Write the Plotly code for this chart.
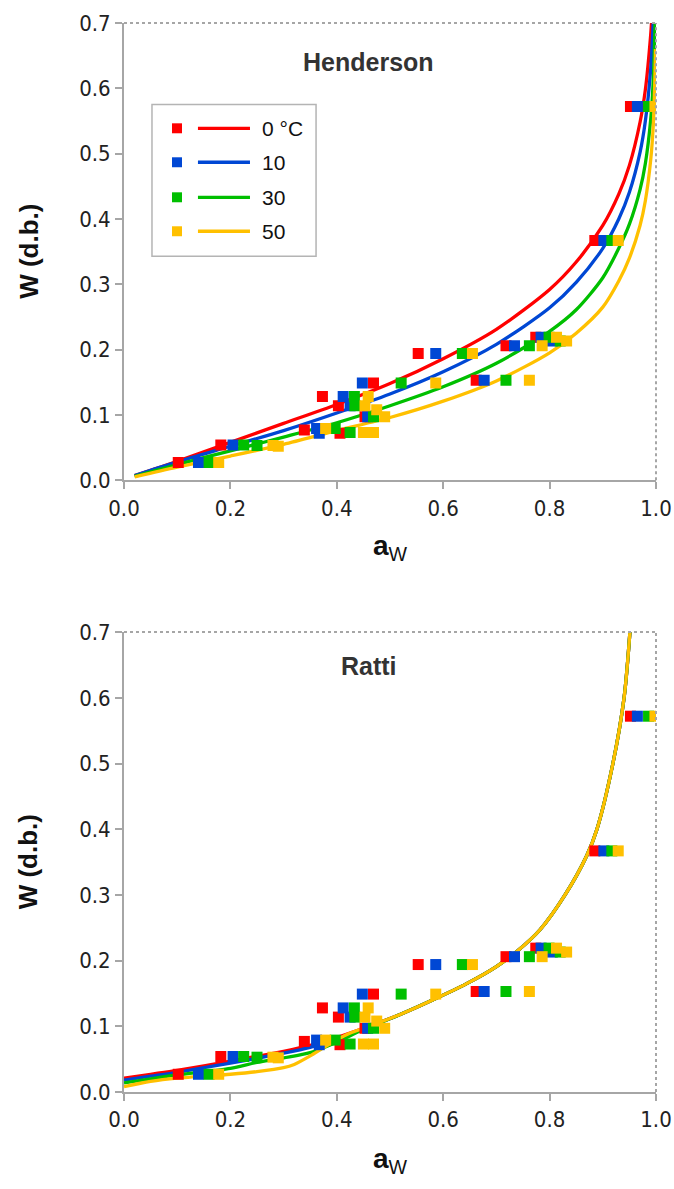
import plotly.graph_objects as go

# ---------------- data ----------------
temps = ["0 °C", "10", "30", "50"]
colors = ["#FF0000", "#0047D4", "#00BF00", "#FFC000"]

# experimental points (same in both panels)
exp_aw = [
    [0.102, 0.182, 0.339, 0.406, 0.373, 0.403, 0.453, 0.469, 0.553, 0.662, 0.718, 0.774, 0.885, 0.952],
    [0.140, 0.205, 0.362, 0.367, 0.412, 0.425, 0.458, 0.448, 0.586, 0.677, 0.734, 0.784, 0.805, 0.902, 0.965],
    [0.160, 0.225, 0.250, 0.397, 0.425, 0.433, 0.434, 0.469, 0.521, 0.636, 0.718, 0.762, 0.799, 0.820, 0.917, 0.986],
    [0.178, 0.280, 0.290, 0.379, 0.450, 0.469, 0.459, 0.453, 0.475, 0.490, 0.586, 0.655, 0.762, 0.786, 0.813, 0.832, 0.929, 0.998],
]
exp_w = [
    [0.027, 0.054, 0.077, 0.072, 0.128, 0.114, 0.097, 0.149, 0.194, 0.153, 0.206, 0.219, 0.367, 0.572],
    [0.027, 0.054, 0.079, 0.072, 0.128, 0.114, 0.097, 0.149, 0.194, 0.153, 0.206, 0.219, 0.213, 0.367, 0.572],
    [0.027, 0.054, 0.053, 0.079, 0.073, 0.128, 0.114, 0.097, 0.149, 0.194, 0.153, 0.206, 0.219, 0.213, 0.367, 0.572],
    [0.027, 0.053, 0.052, 0.079, 0.073, 0.073, 0.128, 0.114, 0.108, 0.097, 0.149, 0.194, 0.153, 0.206, 0.219, 0.213, 0.367, 0.572],
]

# Henderson model curves
hend_aw = [
    [0.02, 0.1, 0.2, 0.3, 0.4, 0.5, 0.6, 0.7, 0.8, 0.85, 0.9, 0.93, 0.95, 0.97, 0.98, 0.99, 0.9915],
    [0.02, 0.1, 0.2, 0.3, 0.4, 0.5, 0.6, 0.7, 0.8, 0.85, 0.9, 0.93, 0.95, 0.97, 0.98, 0.99, 0.9947],
    [0.02, 0.1, 0.2, 0.3, 0.4, 0.5, 0.6, 0.7, 0.8, 0.85, 0.9, 0.93, 0.95, 0.97, 0.98, 0.99, 0.995, 0.9982],
    [0.02, 0.1, 0.2, 0.3, 0.4, 0.5, 0.6, 0.7, 0.8, 0.85, 0.9, 0.93, 0.95, 0.97, 0.98, 0.99, 0.995, 0.998, 0.999],
]
hend_w = [
    [0.007, 0.029, 0.058, 0.087, 0.116, 0.148, 0.186, 0.231, 0.292, 0.334, 0.390, 0.438, 0.482, 0.548, 0.598, 0.682, 0.700],
    [0.007, 0.028, 0.052, 0.076, 0.103, 0.132, 0.166, 0.208, 0.264, 0.303, 0.355, 0.400, 0.441, 0.502, 0.550, 0.629, 0.700],
    [0.006, 0.024, 0.045, 0.066, 0.088, 0.114, 0.143, 0.179, 0.228, 0.261, 0.310, 0.355, 0.392, 0.445, 0.485, 0.552, 0.615, 0.700],
    [0.005, 0.020, 0.037, 0.055, 0.076, 0.096, 0.121, 0.152, 0.195, 0.225, 0.265, 0.305, 0.340, 0.390, 0.428, 0.490, 0.545, 0.620, 0.660],
]

# Ratti model curves
ratti_upper_aw = [0.519, 0.58, 0.644, 0.70, 0.74, 0.782, 0.829, 0.87, 0.889, 0.919, 0.94, 0.951]
ratti_upper_w = [0.118, 0.140, 0.165, 0.191, 0.215, 0.247, 0.300, 0.360, 0.400, 0.500, 0.600, 0.700]
ratti_low_aw = [
    [0.0, 0.05, 0.1, 0.2, 0.3, 0.35, 0.4, 0.45],
    [0.0, 0.05, 0.1, 0.2, 0.3, 0.35, 0.4, 0.45],
    [0.0, 0.05, 0.1, 0.2, 0.25, 0.3, 0.35, 0.4, 0.45],
    [0.0, 0.05, 0.1, 0.2, 0.25, 0.3, 0.32, 0.35, 0.38, 0.42, 0.45],
]
ratti_low_w = [
    [0.021, 0.027, 0.033, 0.047, 0.062, 0.071, 0.083, 0.097],
    [0.018, 0.024, 0.030, 0.044, 0.059, 0.068, 0.081, 0.096],
    [0.014, 0.020, 0.026, 0.036, 0.045, 0.052, 0.060, 0.076, 0.095],
    [0.008, 0.016, 0.021, 0.027, 0.031, 0.037, 0.042, 0.055, 0.070, 0.088, 0.097],
]

x_ticks = [0.0, 0.2, 0.4, 0.6, 0.8, 1.0]
y_ticks = [0.0, 0.1, 0.2, 0.3, 0.4, 0.5, 0.6, 0.7]
panel_titles = ["Henderson", "Ratti"]

# ---------------- figure ----------------
fig = go.Figure()
LW = 3.3
MS = 11

for panel in (1, 2):
    xa = "x" if panel == 1 else "x2"
    ya = "y" if panel == 1 else "y2"
    for i in range(4):
        if panel == 1:
            cx, cy = hend_aw[i], hend_w[i]
        else:
            cx = ratti_low_aw[i] + ratti_upper_aw
            cy = ratti_low_w[i] + ratti_upper_w
        fig.add_trace(go.Scatter(x=cx, y=cy, mode="lines", line=dict(color=colors[i], width=LW, shape="spline", smoothing=0.8),
                                 xaxis=xa, yaxis=ya, showlegend=False, hoverinfo="skip"))
    for i in range(4):
        fig.add_trace(go.Scatter(x=exp_aw[i], y=exp_w[i], mode="markers",
                                 marker=dict(symbol="square", size=MS, color=colors[i], line=dict(width=0)),
                                 xaxis=xa, yaxis=ya, showlegend=False, hoverinfo="skip"))

tick_font = dict(family="Liberation Sans Narrow, Arial Narrow, DejaVu Sans Condensed, sans-serif", size=22, color="#222222")
axis_common = dict(showline=True, linecolor="#A6A6A6", linewidth=2, ticks="outside", ticklen=7,
                   tickwidth=2, tickcolor="#A6A6A6", showgrid=False, zeroline=False, tickfont=tick_font,
                   automargin=False)

# page body margin is removed (see post_script), so the figure fills the window exactly
fig.update_layout(
    width=674, height=1189,
    margin=dict(l=124, r=18, t=22.7, b=97),
    paper_bgcolor="white", plot_bgcolor="white",
    xaxis=dict(domain=[0, 1], range=[0, 1.0], tickvals=x_ticks, tickformat=".1f", anchor="y", **axis_common),
    yaxis=dict(domain=[0.5723, 1.0], range=[0, 0.7], tickvals=y_ticks, tickformat=".1f", anchor="x", **axis_common),
    xaxis2=dict(domain=[0, 1], range=[0, 1.0], tickvals=x_ticks, tickformat=".1f", anchor="y2", **axis_common),
    yaxis2=dict(domain=[0.0, 0.4302], range=[0, 0.7], tickvals=y_ticks, tickformat=".1f", anchor="x2", **axis_common),
)

shapes = []
annotations = []
for panel in (1, 2):
    xr = "x domain" if panel == 1 else "x2 domain"
    yr = "y domain" if panel == 1 else "y2 domain"
    # dotted top/right frame
    shapes.append(dict(type="line", xref=xr, yref=yr, x0=0, x1=1, y0=1, y1=1,
                       line=dict(color="#A6A6A6", width=2, dash="dot")))
    shapes.append(dict(type="line", xref=xr, yref=yr, x0=1, x1=1, y0=0, y1=1,
                       line=dict(color="#A6A6A6", width=2, dash="dot")))
    annotations.append(dict(xref=xr, yref=yr, x=0.46, y=0.915 if panel == 1 else 0.926,
                            text="<b>%s</b>" % panel_titles[panel - 1], showarrow=False,
                            font=dict(family="Liberation Sans, Arial, sans-serif", size=25, color="#333333"),
                            xanchor="center", yanchor="middle"))
    annotations.append(dict(xref=xr, yref=yr, x=0.5, y=-0.148,
                            text="<b>a</b><sub>W</sub>", showarrow=False,
                            font=dict(family="Liberation Sans, Arial, sans-serif", size=28, color="#111111"),
                            xanchor="center", yanchor="middle"))
    annotations.append(dict(xref=xr, yref=yr, x=-0.18, y=0.5, textangle=-90,
                            text="<b>W (d.b.)</b>", showarrow=False,
                            font=dict(family="Liberation Sans, Arial, sans-serif", size=26, color="#111111"),
                            xanchor="center", yanchor="middle"))

# legend (top panel), drawn as a small key box
shapes.append(dict(type="rect", xref="x domain", yref="y domain", x0=0.0526, x1=0.361, y0=0.490, y1=0.822,
                   line=dict(color="#B4B4B4", width=1.5), fillcolor="white", layer="above"))
row_y = [0.7697, 0.6954, 0.6188, 0.5445]
for i in range(4):
    shapes.append(dict(type="rect", xref="x domain", yref="y domain",
                       x0=0.0996 - 0.0094, x1=0.0996 + 0.0094, y0=row_y[i] - 0.0109, y1=row_y[i] + 0.0109,
                       line=dict(width=0), fillcolor=colors[i], layer="above"))
    shapes.append(dict(type="line", xref="x domain", yref="y domain", x0=0.139, x1=0.2368, y0=row_y[i], y1=row_y[i],
                       line=dict(color=colors[i], width=LW), layer="above"))
    annotations.append(dict(xref="x domain", yref="y domain", x=0.2556, y=row_y[i], text=temps[i], showarrow=False,
                            xanchor="left", yanchor="middle",
                            font=dict(family="Liberation Sans, Arial, sans-serif", size=21, color="#111111")))

fig.update_layout(shapes=shapes, annotations=annotations)
fig.write_html("out.html",
               config={"displayModeBar": False, "staticPlot": True},
               post_script="document.body.style.margin='0';document.body.style.overflow='hidden';")
